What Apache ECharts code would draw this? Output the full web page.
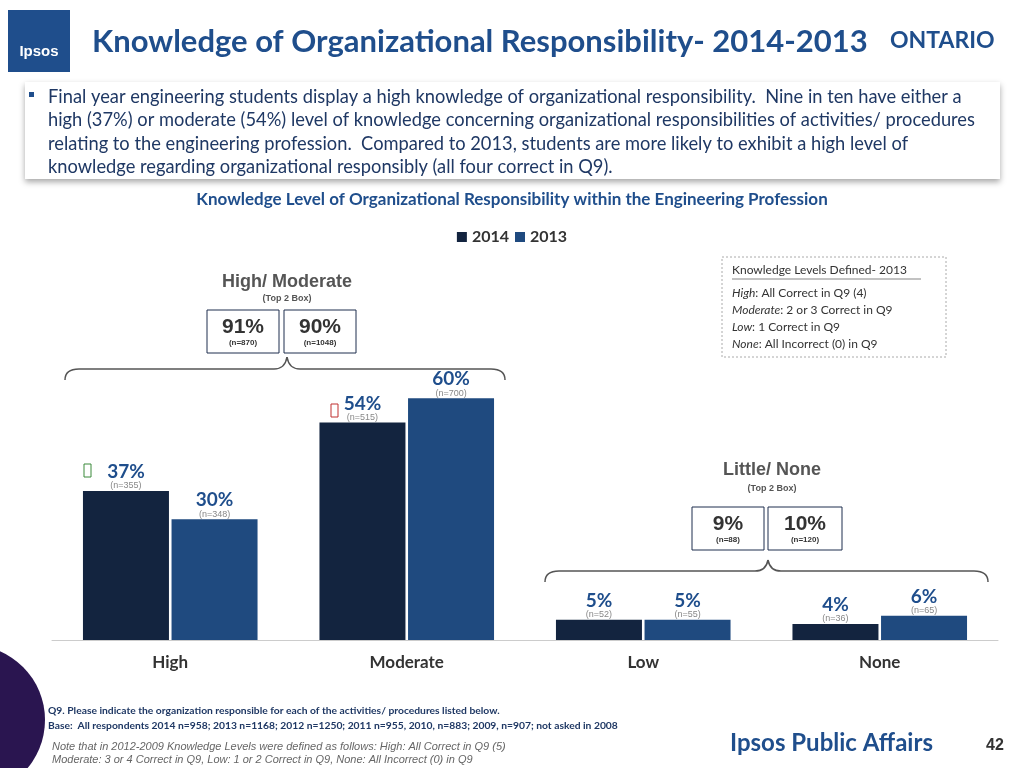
<!DOCTYPE html>
<html><head><meta charset="utf-8">
<script src="https://cdn.jsdelivr.net/npm/echarts@6/dist/echarts.min.js"></script>
<style>html,body{margin:0;padding:0;background:#fff}#c{width:1024px;height:768px}</style>
</head><body><div id="c"></div>
<script>
const categories = ['High','Moderate','Low','None'];
const values2014 = [37,54,5,4];
const values2013 = [30,60,5,6];
const n2014 = ['355','515','52','36'];
const n2013 = ['348','700','55','65'];
const chart = echarts.init(document.getElementById('c'));
const F = 'Lato, "Open Sans", sans-serif';
function lab(ns){return {show:true,position:'top',distance:0,lineHeight:14,
  formatter:p=>'{a|'+p.value+'%}\n{b|(n='+ns[p.dataIndex]+')}',
  rich:{a:{fontSize:19,fontWeight:'bold',color:'#1f4e8c',fontFamily:F,lineHeight:18},
        b:{fontSize:9,color:'#888',fontFamily:'Arial',lineHeight:10}}};}
function box(x,y,w,h,big,small){return [
 {type:'rect',shape:{x:x,y:y,width:w,height:h},style:{fill:'#fff',stroke:'#1f2f4f',lineWidth:1}},
 {type:'text',x:x+w/2,y:y+7,style:{text:big,font:'bold 21px Arial',fill:'#333',align:'center'}},
 {type:'text',x:x+w/2,y:y+h-14,style:{text:small,font:'bold 8px Arial',fill:'#333',align:'center'}}];}
function brace(x1,x2,mid,yb,yt){
 const s={fill:null,stroke:'#555',lineWidth:1.5};
 return [
 {type:'bezierCurve',shape:{x1:x1,y1:yb,x2:x1+14,y2:yb-11,cpx1:x1,cpy1:yb-11},style:s},
 {type:'line',shape:{x1:x1+14,y1:yb-11,x2:mid-13,y2:yb-11},style:s},
 {type:'bezierCurve',shape:{x1:mid-13,y1:yb-11,x2:mid,y2:yt,cpx1:mid-2,cpy1:yb-11},style:s},
 {type:'bezierCurve',shape:{x1:mid,y1:yt,x2:mid+13,y2:yb-11,cpx1:mid+2,cpy1:yb-11},style:s},
 {type:'line',shape:{x1:mid+13,y1:yb-11,x2:x2-14,y2:yb-11},style:s},
 {type:'bezierCurve',shape:{x1:x2-14,y1:yb-11,x2:x2,y2:yb,cpx1:x2,cpy1:yb-11},style:s}];}
const defs = [['High','All Correct in Q9 (4)'],['Moderate','2 or 3 Correct in Q9'],['Low','1 Correct in Q9'],['None','All Incorrect (0) in Q9']];
const g = [
 {type:'circle',shape:{cx:-30,cy:720,r:75},style:{fill:'#2a1550'}},
 {type:'rect',shape:{x:8,y:10,width:62,height:62},style:{fill:'#1f4e8c'}},
 {type:'text',x:39,y:44,style:{text:'Ipsos',font:'bold 15px Arial',fill:'#fff',align:'center'}},
 {type:'text',x:92,y:26,style:{text:'Knowledge of Organizational Responsibility- 2014-2013',font:'bold 31px Lato, sans-serif',fill:'#1f4e8c'}},
 {type:'text',x:890,y:29,style:{text:'ONTARIO',font:'bold 23px Lato, sans-serif',fill:'#1f4e8c'}},
 {type:'rect',shape:{x:25,y:82,width:975,height:97},style:{fill:'#fff',shadowBlur:6,shadowColor:'rgba(0,0,0,0.35)',shadowOffsetY:3}},
 {type:'rect',shape:{x:29,y:92,width:5,height:5},style:{fill:'#1f4e8c'}},
 {type:'text',x:48,y:85,style:{text:'Final year engineering students display a high knowledge of organizational responsibility.  Nine in ten have either a\nhigh (37%) or moderate (54%) level of knowledge concerning organizational responsibilities of activities/ procedures\nrelating to the engineering profession.  Compared to 2013, students are more likely to exhibit a high level of\nknowledge regarding organizational responsibly (all four correct in Q9).',font:'18.3px Lato, sans-serif',fill:'#1f3864',lineHeight:23.5}},
 {type:'text',x:512,y:191,style:{text:'Knowledge Level of Organizational Responsibility within the Engineering Profession',font:'bold 17px Lato, sans-serif',fill:'#1f4e8c',align:'center'}},
 {type:'rect',shape:{x:722,y:257,width:224,height:100},style:{fill:'#fff',stroke:'#aaa',lineDash:[2,2]}},
 {type:'text',x:732,y:264,style:{text:'Knowledge Levels Defined- 2013',font:'12px Lato, sans-serif',fill:'#333'}},
 {type:'line',shape:{x1:732,y1:279,x2:921,y2:279},style:{stroke:'#333',lineWidth:0.6}},
 ...defs.map((d,i)=>({type:'text',x:732,y:287+i*17,style:{text:'{i|'+d[0]+'}: '+d[1],font:'12px Lato, sans-serif',fill:'#333',rich:{i:{fontStyle:'italic',fontFamily:'Lato, sans-serif',fontSize:12,fill:'#333'}}}})),
 {type:'text',x:287,y:273,style:{text:'High/ Moderate',font:'bold 18px Arial',fill:'#555',align:'center'}},
 {type:'text',x:287,y:294,style:{text:'(Top 2 Box)',font:'bold 9px Arial',fill:'#555',align:'center'}},
 ...box(207,310,72,43,'91%','(n=870)'),
 ...box(284,310,72,43,'90%','(n=1048)'),
 {type:'text',x:772,y:461,style:{text:'Little/ None',font:'bold 18px Arial',fill:'#555',align:'center'}},
 {type:'text',x:772,y:484,style:{text:'(Top 2 Box)',font:'bold 9px Arial',fill:'#555',align:'center'}},
 ...box(692,507,72,43,'9%','(n=88)'),
 ...box(768,507,74,43,'10%','(n=120)'),
 ...brace(65,505,287,380,357),
 ...brace(545,988,768,582,560),
 {type:'rect',shape:{x:84,y:464,width:7,height:13},style:{fill:null,stroke:'#3a8a3a',lineWidth:1}},
 {type:'rect',shape:{x:331,y:404,width:7,height:13},style:{fill:null,stroke:'#c03030',lineWidth:1}},
 {type:'text',x:48,y:703,style:{text:'Q9. Please indicate the organization responsible for each of the activities/ procedures listed below.\nBase:  All respondents 2014 n=958; 2013 n=1168; 2012 n=1250; 2011 n=955, 2010, n=883; 2009, n=907; not asked in 2008',font:'bold 10.3px Lato, sans-serif',fill:'#1f3864',lineHeight:15}},
 {type:'text',x:52,y:740,style:{text:'Note that in 2012-2009 Knowledge Levels were defined as follows: High: All Correct in Q9 (5)\nModerate: 3 or 4 Correct in Q9, Low: 1 or 2 Correct in Q9, None: All Incorrect (0) in Q9',font:'italic 11px Arial',fill:'#666',lineHeight:13}},
 {type:'text',x:730,y:731,style:{text:'Ipsos Public Affairs',font:'bold 24px Lato, sans-serif',fill:'#1f4e8c'}},
 {type:'text',x:986,y:738,style:{text:'42',font:'bold 16px Arial',fill:'#333'}}
];
chart.setOption({
 animation:false,
 legend:{top:224,left:'center',itemWidth:10,itemHeight:10,itemGap:6,icon:'rect',textStyle:{fontSize:16,fontWeight:'bold',fontFamily:F,color:'#333'}},
 grid:{left:52,right:26,top:358,bottom:128},
 xAxis:{type:'category',data:categories,axisTick:{show:false},axisLine:{lineStyle:{color:'#ccc'}},axisLabel:{fontSize:17,fontWeight:'bold',fontFamily:F,color:'#333',margin:14}},
 yAxis:{type:'value',min:0,max:70,show:false},
 series:[
  {name:'2014',type:'bar',data:values2014,barWidth:86,barGap:'3%',itemStyle:{color:'#13243f'},label:lab(n2014)},
  {name:'2013',type:'bar',data:values2013,barWidth:86,itemStyle:{color:'#1f4a7f'},label:lab(n2013)}
 ],
 graphic:g
});
</script></body></html>
